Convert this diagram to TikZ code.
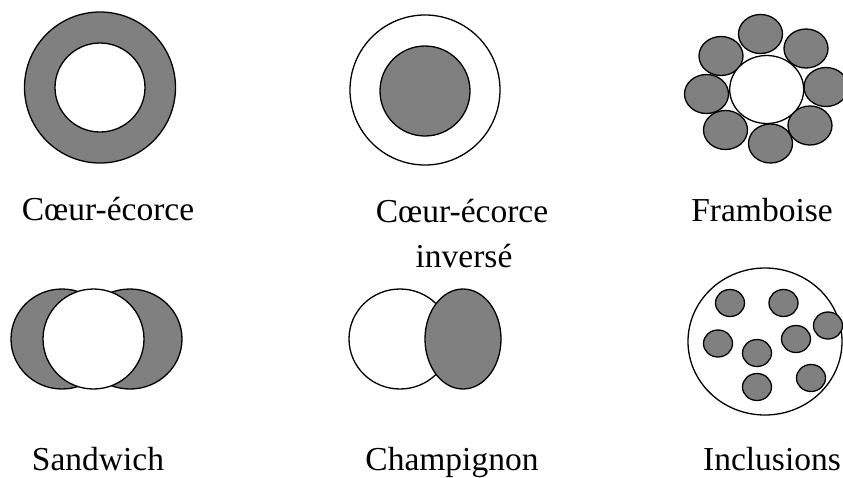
\documentclass[tikz,border=0pt]{standalone}
\usepackage{fontspec}
\setmainfont{Liberation Serif}
\usetikzlibrary{shapes.geometric}
\definecolor{coregray}{HTML}{808080}
\begin{document}
\begin{tikzpicture}[x=1pt,y=-1pt,
    shell/.style={draw,ellipse,line width=1.3pt,inner sep=0pt},
    dark/.style={shell,fill=coregray},
    light/.style={shell,fill=white},
    lab/.style={anchor=base,inner sep=0pt,font=\fontsize{33.5}{40}\selectfont}]
    \useasboundingbox (0,0) rectangle (843,477);

    % coeur-ecorce
    \node[dark,minimum width=151pt,minimum height=151pt](ce) at (100,87.5) {};
    \node[light,minimum width=90pt,minimum height=89pt](cec) at (100,87.5) {};
    \node[lab](lce) at (108,220) {Cœur-écorce};

    % coeur-ecorce inverse
    \node[light,minimum width=150pt,minimum height=150pt](ci) at (425,90) {};
    \node[dark,minimum width=90pt,minimum height=90pt](cic) at (425,91) {};
    \node[lab](lci) at (462,222) {Cœur-écorce};
    \node[lab](lcib) at (464,267) {inversé};

    % framboise
    \foreach \px/\py [count=\i] in {760.5/34, 806/48.5, 826/87, 810/125.5,
                                    770.5/143.5, 725.5/130, 706.5/94, 721/56} {
      \node[dark,minimum width=44pt,minimum height=39pt](fr\i) at (\px,\py) {};
    }
    \node[light,minimum width=74pt,minimum height=68pt](frc) at (766.7,89.5) {};
    \node[lab](lfr) at (762,221) {Framboise};

    % sandwich
    \node[dark,minimum width=102pt,minimum height=100pt](swl) at (62,339) {};
    \node[dark,minimum width=104pt,minimum height=100pt](swr) at (130,339) {};
    \node[light,minimum width=101pt,minimum height=100pt](swc) at (93.5,339) {};
    \node[lab](lsw) at (98,470) {Sandwich};

    % champignon
    \node[light,minimum width=102pt,minimum height=100pt](chl) at (400,339) {};
    \node[dark,minimum width=76pt,minimum height=100pt](chr) at (463,339) {};
    \node[lab](lch) at (452,470) {Champignon};

    % inclusions
    \node[light,minimum width=154pt,minimum height=147pt](inc) at (765,341.5) {};
    \foreach \px/\py [count=\i] in {730/303, 783.5/303, 828/325.5, 796/339,
                                    718/343.5, 757/353, 811/378, 757/387} {
      \node[dark,minimum width=29pt,minimum height=27pt](in\i) at (\px,\py) {};
    }
    \node[lab](lin) at (772,470) {Inclusions};
  \end{tikzpicture}
\end{document}
